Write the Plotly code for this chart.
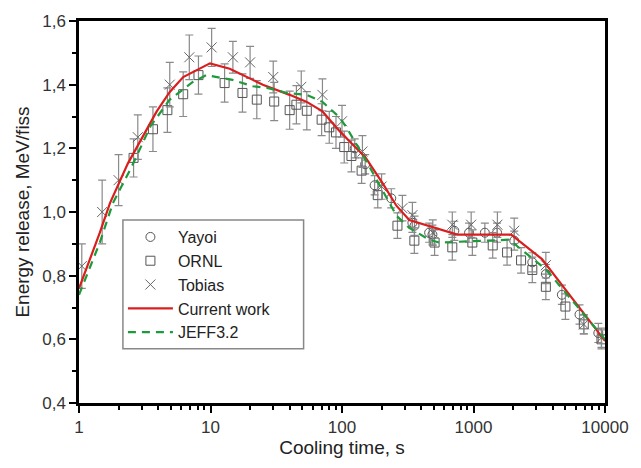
import plotly.graph_objects as go

# ---- data ----
cur_x = [1, 1.44, 1.72, 2.35, 3.9, 4.9, 6.2, 9.9, 14, 17.6, 25, 40, 54, 71, 96, 120, 150, 204, 260, 325, 460, 753, 1935, 3317, 10000]
cur_y = [0.76, 0.935, 1.028, 1.152, 1.316, 1.377, 1.424, 1.467, 1.45, 1.43, 1.40, 1.368, 1.346, 1.316, 1.254, 1.213, 1.173, 1.09, 1.019, 0.975, 0.957, 0.929, 0.929, 0.852, 0.595]

jeff_x = [1, 1.44, 1.81, 2.5, 3.5, 4.9, 7.3, 9.3, 14.7, 21, 27, 38, 54, 71, 96, 108, 153, 204, 260, 325, 460, 550, 1870, 3550, 10000]
jeff_y = [0.74, 0.904, 1.028, 1.14, 1.27, 1.353, 1.408, 1.43, 1.415, 1.395, 1.39, 1.374, 1.368, 1.346, 1.297, 1.266, 1.16, 1.068, 0.988, 0.95, 0.913, 0.904, 0.913, 0.82, 0.60]

ornl_x = [2.6, 3.65, 4.7, 6.2, 8.1, 12.8, 17.5, 22.5, 30.5, 40, 45, 54, 70, 80, 90, 104, 118, 141, 187, 264, 355, 506, 690, 980, 1400, 1800, 2300, 2800, 3550, 5000, 6900, 9400]
ornl_y = [1.17, 1.26, 1.32, 1.37, 1.43, 1.405, 1.374, 1.353, 1.347, 1.32, 1.337, 1.318, 1.29, 1.266, 1.25, 1.204, 1.176, 1.13, 1.053, 0.957, 0.91, 0.904, 0.889, 0.904, 0.895, 0.873, 0.848, 0.818, 0.765, 0.703, 0.647, 0.60]
ornl_e = [0.06, 0.07, 0.07, 0.07, 0.06, 0.06, 0.06, 0.06, 0.06, 0.06, 0.06, 0.06, 0.05, 0.05, 0.05, 0.05, 0.05, 0.04, 0.04, 0.04, 0.04, 0.04, 0.04, 0.04, 0.04, 0.04, 0.04, 0.04, 0.04, 0.04, 0.03, 0.03]

tob_x = [1.05, 1.5, 2.0, 2.8, 4.9, 6.9, 10.2, 14.8, 20, 30, 49, 71, 100, 143, 200, 288, 343, 490, 690, 960, 1520, 2040, 3550, 6900, 9400]
tob_y = [0.83, 1.0, 1.1, 1.235, 1.40, 1.486, 1.517, 1.486, 1.47, 1.424, 1.393, 1.368, 1.285, 1.19, 1.08, 1.012, 0.99, 0.935, 0.96, 0.96, 0.96, 0.941, 0.833, 0.647, 0.605]
tob_e = [0.07, 0.1, 0.08, 0.07, 0.07, 0.07, 0.06, 0.05, 0.05, 0.05, 0.05, 0.05, 0.05, 0.05, 0.04, 0.04, 0.04, 0.04, 0.04, 0.04, 0.04, 0.04, 0.04, 0.03, 0.03]

yay_x = [125, 150, 177, 237, 343, 356, 460, 487, 715, 925, 1220, 1510, 2040, 2800, 3550, 4700, 6400, 8900]
yay_y = [1.20, 1.15, 1.084, 1.043, 0.966, 0.957, 0.935, 0.929, 0.941, 0.935, 0.935, 0.935, 0.91, 0.842, 0.805, 0.74, 0.678, 0.62]
yay_e = [0.03] * len(yay_x)

x_ticks = [1, 10, 100, 1000, 10000]
x_ticklabels = ["1", "10", "100", "1000", "10000"]
y_ticks = [0.4, 0.6, 0.8, 1.0, 1.2, 1.4, 1.6]
y_ticklabels = ["0,4", "0,6", "0,8", "1,0", "1,2", "1,4", "1,6"]

# ---- figure ----
FONT = "Liberation Sans, Arial"
mk = "#555555"
ebar = "#8a8a8a"
fig = go.Figure()
fig.add_trace(go.Scatter(x=yay_x, y=yay_y, mode="markers", name="Yayoi",
                         marker=dict(symbol="circle-open", size=9, color=mk, line=dict(width=1)),
                         error_y=dict(type="data", array=yay_e, color=ebar, thickness=1.2, width=4)))
fig.add_trace(go.Scatter(x=ornl_x, y=ornl_y, mode="markers", name="ORNL",
                         marker=dict(symbol="square-open", size=9, color=mk, line=dict(width=1)),
                         error_y=dict(type="data", array=ornl_e, color=ebar, thickness=1.2, width=4)))
fig.add_trace(go.Scatter(x=tob_x, y=tob_y, mode="markers", name="Tobias",
                         marker=dict(symbol="x-thin-open", size=10, color="#666", line=dict(width=1, color="#666")),
                         error_y=dict(type="data", array=tob_e, color=ebar, thickness=1.2, width=4)))
fig.add_trace(go.Scatter(x=cur_x, y=cur_y, mode="lines", name="Current work",
                         line=dict(color="#d81e1e", width=2.2)))
fig.add_trace(go.Scatter(x=jeff_x, y=jeff_y, mode="lines", name="JEFF3.2",
                         line=dict(color="#1f9a3a", width=2.2, dash="8px,6px")))

axis_common = dict(showline=True, linecolor="black", linewidth=2.5, mirror=True,
                   ticks="outside", tickcolor="black", tickwidth=1.5, ticklen=7,
                   showgrid=False, zeroline=False,
                   tickfont=dict(family=FONT, size=17, color="#333"))

fig.update_xaxes(type="log", range=[0, 4], tickvals=x_ticks, ticktext=x_ticklabels,
                 title=dict(text="Cooling time, s", font=dict(family=FONT, size=19, color="#222"), standoff=2),
                 minor=dict(ticks="outside", ticklen=4, tickwidth=1.5, tickcolor="black",
                            tickvals=[m * 10 ** d for d in range(4) for m in range(2, 10)]),
                 **axis_common)
fig.update_yaxes(range=[0.4, 1.6], tickvals=y_ticks, ticktext=y_ticklabels,
                 title=dict(text="Energy release, MeV/fiss", font=dict(family=FONT, size=19, color="#222"), standoff=8),
                 minor=dict(ticks="outside", ticklen=4, tickwidth=1.5, tickcolor="black", dtick=0.1),
                 **axis_common)

# legend frame (paper coordinates)
fig.add_shape(type="rect", xref="paper", yref="paper", x0=0.0835, x1=0.427, y0=0.142, y1=0.479,
              line=dict(color="#888", width=1.5), fillcolor="white", layer="below")

fig.update_layout(width=641, height=468,
                  margin=dict(l=79, r=35, t=15, b=65),
                  paper_bgcolor="white", plot_bgcolor="white",
                  font=dict(family=FONT, color="#222"),
                  legend=dict(x=0.0835, y=0.479, xanchor="left", yanchor="top",
                              bgcolor="rgba(0,0,0,0)", borderwidth=0,
                              font=dict(family=FONT, size=16, color="#222"),
                              itemwidth=45, tracegroupgap=0))

fig.write_html("out.html")
